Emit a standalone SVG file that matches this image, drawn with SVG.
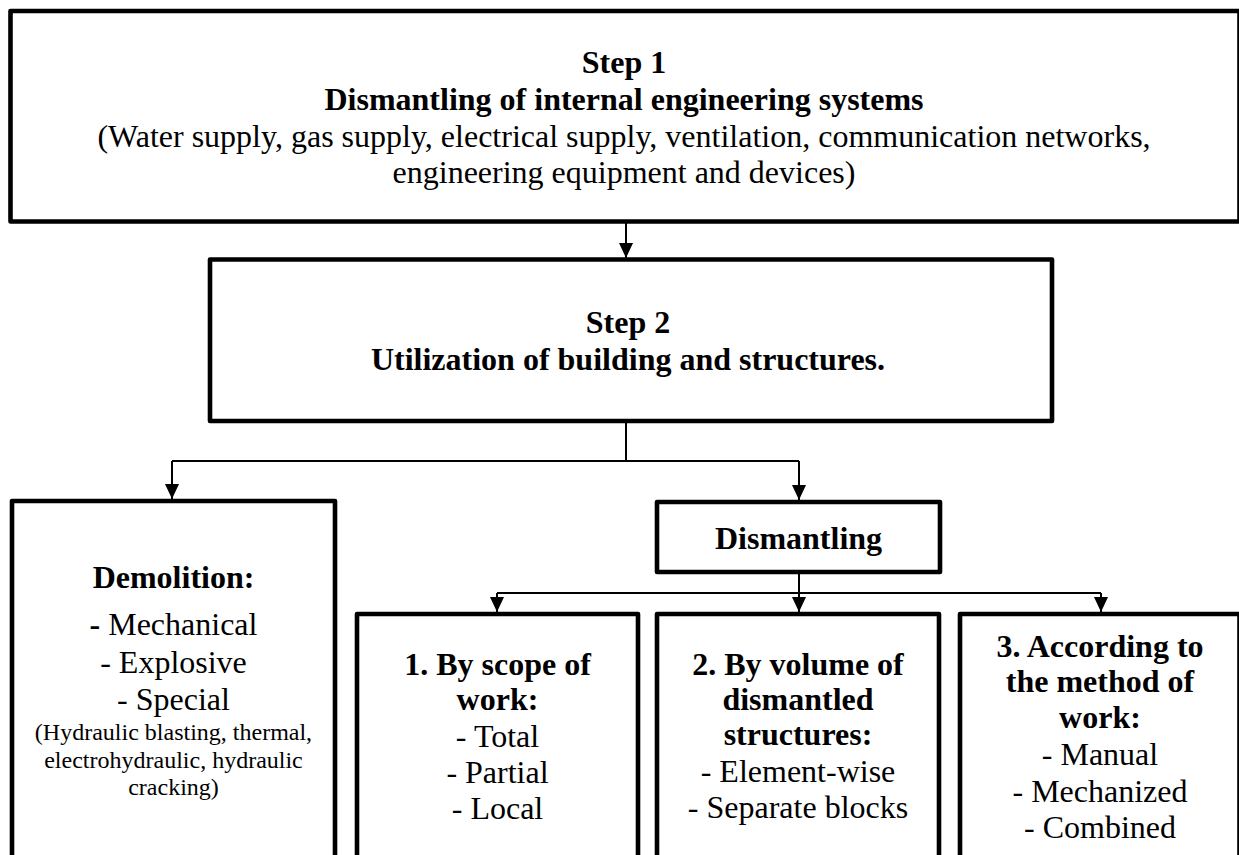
<svg xmlns="http://www.w3.org/2000/svg" width="1239" height="855" viewBox="0 0 1239 855">
<defs>
<marker id="ah" markerWidth="16" markerHeight="14" refX="15" refY="7" orient="auto" markerUnits="userSpaceOnUse" viewBox="0 0 16 14">
<path d="M0,0 L15,7 L0,14 Z" fill="#000"/>
</marker>
<style>
.box{fill:#fff;stroke:#000;stroke-width:4.6;stroke-linejoin:round}
.t{font-family:"Liberation Serif","Times New Roman",serif;font-size:32px;fill:#000;text-anchor:middle}
.b{font-weight:bold}
.s{font-size:24px}
.c{fill:none;stroke:#000;stroke-width:2}
</style>
</defs>
<rect width="1239" height="855" fill="#fff"/>
<g id="connectors">
<path class="c" d="M626,222 L626,258" marker-end="url(#ah)"/>
<path class="c" d="M626,421 L626,461 M172,461 L799,461"/>
<path class="c" d="M172,461 L172,499" marker-end="url(#ah)"/>
<path class="c" d="M799,461 L799,500" marker-end="url(#ah)"/>
<path class="c" d="M799,572 L799,593 M497,593 L1101,593"/>
<path class="c" d="M497,593 L497,612" marker-end="url(#ah)"/>
<path class="c" d="M799,593 L799,612" marker-end="url(#ah)"/>
<path class="c" d="M1101,593 L1101,612" marker-end="url(#ah)"/>
</g>
<g id="step1">
<rect class="box" x="10.5" y="11" width="1229" height="210.5"/>
<text class="t b" x="624" y="73">Step 1</text>
<text class="t b" x="624" y="110">Dismantling of internal engineering systems</text>
<text class="t" x="624" y="147">(Water supply, gas supply, electrical supply, ventilation, communication networks,</text>
<text class="t" x="624" y="183">engineering equipment and devices)</text>
</g>
<g id="step2">
<rect class="box" x="210" y="259.5" width="842" height="161.5"/>
<text class="t b" x="628" y="333">Step 2</text>
<text class="t b" x="628" y="370">Utilization of building and structures.</text>
</g>
<g id="demolition">
<rect class="box" x="12" y="501" width="323" height="380"/>
<text class="t b" x="173.5" y="588">Demolition:</text>
<text class="t" x="173.5" y="635"><tspan class="b">-</tspan> Mechanical</text>
<text class="t" x="173.5" y="673">- Explosive</text>
<text class="t" x="173.5" y="710">- Special</text>
<text class="t s" x="173.5" y="740">(Hydraulic blasting, thermal,</text>
<text class="t s" x="173.5" y="768">electrohydraulic, hydraulic</text>
<text class="t s" x="173.5" y="795">cracking)</text>
</g>
<g id="dismantling">
<rect class="box" x="657" y="502" width="283" height="70"/>
<text class="t b" x="798.5" y="549">Dismantling</text>
</g>
<g id="scope">
<rect class="box" x="357" y="614" width="281" height="270"/>
<text class="t b" x="497.5" y="675">1. By scope of</text>
<text class="t b" x="497.5" y="710">work:</text>
<text class="t" x="497.5" y="747">- Total</text>
<text class="t" x="497.5" y="783">- Partial</text>
<text class="t" x="497.5" y="819">- Local</text>
</g>
<g id="volume">
<rect class="box" x="657" y="614" width="282" height="270"/>
<text class="t b" x="798" y="675">2. By volume of</text>
<text class="t b" x="798" y="710">dismantled</text>
<text class="t b" x="798" y="745">structures:</text>
<text class="t" x="798" y="782">- Element-wise</text>
<text class="t" x="798" y="818">- Separate blocks</text>
</g>
<g id="method">
<rect class="box" x="960" y="614" width="279.5" height="270"/>
<text class="t b" x="1100" y="657">3. According to</text>
<text class="t b" x="1100" y="692">the method of</text>
<text class="t b" x="1100" y="728">work:</text>
<text class="t" x="1100" y="765">- Manual</text>
<text class="t" x="1100" y="802">- Mechanized</text>
<text class="t" x="1100" y="838">- Combined</text>
</g>
</svg>
